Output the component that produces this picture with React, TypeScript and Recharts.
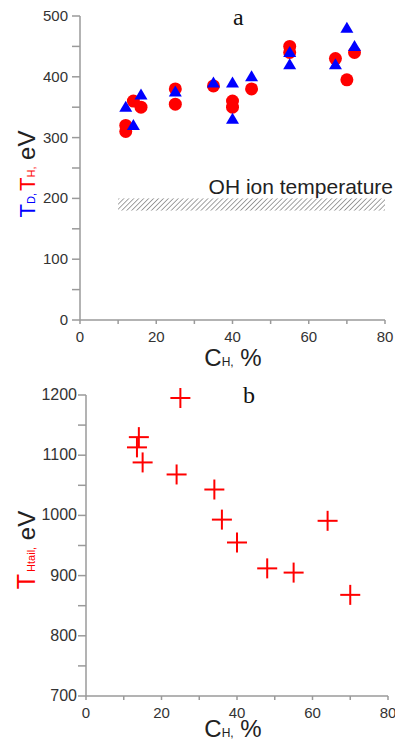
import React from "react";
import {
  ScatterChart,
  Scatter,
  XAxis,
  YAxis,
  ReferenceArea,
} from "recharts";

// panel a: T_D (blue triangles) and T_H (red circles) vs C_H
const tdX = [12, 14, 16, 25, 35, 40, 40, 45, 55, 55, 67, 70, 72];
const tdY = [350, 320, 370, 375, 390, 390, 330, 400, 440, 420, 420, 480, 450];
const thX = [12, 12, 14, 16, 25, 25, 35, 40, 40, 45, 55, 55, 67, 70, 72];
const thY = [310, 320, 360, 350, 380, 355, 385, 360, 350, 380, 450, 440, 430, 395, 440];

// OH ion temperature band
const ohBand = { x1: 10, x2: 80, y1: 180, y2: 200 };

// panel b: T_Htail vs C_H
const tailX = [25, 14, 13.5, 15, 24, 34, 36, 40, 48, 55, 64, 70];
const tailY = [1195, 1130, 1113, 1088, 1068, 1043, 993, 955, 912, 905, 991, 868];

const xTicks = [0, 10, 20, 30, 40, 50, 60, 70, 80];
const yTicksA = [0, 50, 100, 150, 200, 250, 300, 350, 400, 450, 500];
const yTicksB = [700, 750, 800, 850, 900, 950, 1000, 1050, 1100, 1150, 1200];

const tdData = tdX.map((x, i) => ({ x, y: tdY[i] }));
const thData = thX.map((x, i) => ({ x, y: thY[i] }));
const tailData = tailX.map((x, i) => ({ x, y: tailY[i] }));

const SANS = "'Liberation Sans', Arial, sans-serif";
const SERIF = "'Liberation Serif', 'Times New Roman', serif";
const AXIS = "#9a9a9a";
const TICK_TEXT = "#333";

function xTick(size: number) {
  return (p: any) =>
    p.payload.value % 20 === 0 ? (
      <text x={p.x} y={p.y + 16} textAnchor="middle" fill={TICK_TEXT} fontSize={size} fontFamily={SANS}>
        {p.payload.value}
      </text>
    ) : (
      <g />
    );
}

function yTick(size: number) {
  return (p: any) =>
    p.payload.value % 100 === 0 ? (
      <text x={p.x} y={p.y + 5} textAnchor="end" fill={TICK_TEXT} fontSize={size} fontFamily={SANS}>
        {p.payload.value}
      </text>
    ) : (
      <g />
    );
}

const Circle = (p: any) => <circle cx={p.cx} cy={p.cy} r={6.5} fill="#ff0000" />;
const Tri = (p: any) => (
  <polygon
    points={`${p.cx},${p.cy - 6.5} ${p.cx - 6.5},${p.cy + 4.5} ${p.cx + 6.5},${p.cy + 4.5}`}
    fill="#0000ff"
  />
);
const Cross = (p: any) => (
  <g stroke="#ff0000" strokeWidth={2}>
    <line x1={p.cx - 10} y1={p.cy} x2={p.cx + 10} y2={p.cy} />
    <line x1={p.cx} y1={p.cy - 10} x2={p.cx} y2={p.cy + 10} />
  </g>
);

const HatchRect = (p: any) => (
  <g>
    <defs>
      <pattern id="hatch" width={3.5} height={3.5} patternUnits="userSpaceOnUse" patternTransform="rotate(45)">
        <line x1={0} y1={0} x2={0} y2={3.5} stroke="#7a7a7a" strokeWidth={1.4} />
      </pattern>
    </defs>
    <rect x={p.x} y={p.y} width={p.width} height={p.height} fill="url(#hatch)" />
  </g>
);

const ohLabel = (p: any) => {
  const vb = p.viewBox;
  return (
    <text x={vb.x + vb.width + 8} y={vb.y - 4} textAnchor="end" fill="#222" fontSize={21} fontFamily={SANS}>
      OH ion temperature
    </text>
  );
};

const titleA = () => (
  <text x={35} y={174} transform="rotate(-90 35 174)" textAnchor="middle" fontFamily={SANS} fontSize={24}>
    <tspan fill="#0000ff" fontSize={22}>T</tspan>
    <tspan fill="#0000ff" fontSize={11}>D,</tspan>
    <tspan fill="#ff0000" fontSize={22} dx={2}>T</tspan>
    <tspan fill="#ff0000" fontSize={11}>H,</tspan>
    <tspan fill="#222"> eV</tspan>
  </text>
);

const titleB = () => (
  <text x={35} y={180} transform="rotate(-90 35 180)" textAnchor="middle" fontFamily={SANS} fontSize={24}>
    <tspan fill="#ff0000" fontSize={25}>T</tspan>
    <tspan fill="#ff0000" fontSize={11} dx={2}>Htail,</tspan>
    <tspan fill="#222"> eV</tspan>
  </text>
);

const xTitle = (y: number) => () => (
  <text x={233} y={y} textAnchor="middle" fontFamily={SANS} fontSize={24} fill="#222">
    C<tspan fontSize={12}>H,</tspan> %
  </text>
);

const panelLetter = (text: string, left: number, top: number) => (
  <div
    style={{
      position: "absolute",
      left,
      top,
      fontFamily: SERIF,
      fontSize: 24,
      lineHeight: "24px",
      color: "#111",
    }}
  >
    {text}
  </div>
);

export default function App() {
  return (
    <div style={{ position: "absolute", left: 0, top: 0, width: 395, height: 739, background: "#fff" }}>
      <div style={{ position: "absolute", left: 0, top: 0 }}>
        <ScatterChart width={395} height={370} margin={{ top: 16, right: 10, bottom: 0, left: 0 }}>
          <XAxis
            type="number"
            dataKey="x"
            domain={[0, 80]}
            ticks={xTicks}
            interval={0}
            height={50}
            stroke={AXIS}
            strokeWidth={1.5}
            tickSize={4}
            tick={xTick(15)}
            label={xTitle(366)}
          />
          <YAxis
            type="number"
            dataKey="y"
            domain={[0, 500]}
            ticks={yTicksA}
            interval={0}
            width={80}
            stroke={AXIS}
            strokeWidth={1.5}
            tickSize={8}
            tickMargin={4}
            tick={yTick(15)}
            label={titleA}
          />
          <ReferenceArea {...ohBand} shape={HatchRect} label={ohLabel} />
          <Scatter data={thData} shape={Circle} isAnimationActive={false} />
          <Scatter data={tdData} shape={Tri} isAnimationActive={false} />
        </ScatterChart>
        {panelLetter("a", 233, 5)}
      </div>
      <div style={{ position: "absolute", left: 0, top: 370 }}>
        <ScatterChart width={395} height={369} margin={{ top: 25, right: 7, bottom: 0, left: 0 }}>
          <XAxis
            type="number"
            dataKey="x"
            domain={[0, 80]}
            ticks={xTicks}
            interval={0}
            height={43}
            stroke={AXIS}
            strokeWidth={1.5}
            tickSize={4}
            tick={xTick(15)}
            label={xTitle(367)}
          />
          <YAxis
            type="number"
            dataKey="y"
            domain={[700, 1200]}
            ticks={yTicksB}
            interval={0}
            width={86}
            stroke={AXIS}
            strokeWidth={1.5}
            tickSize={8}
            tickMargin={1}
            tick={yTick(16)}
            label={titleB}
          />
          <Scatter data={tailData} shape={Cross} isAnimationActive={false} />
        </ScatterChart>
        {panelLetter("b", 243, 13)}
      </div>
    </div>
  );
}
